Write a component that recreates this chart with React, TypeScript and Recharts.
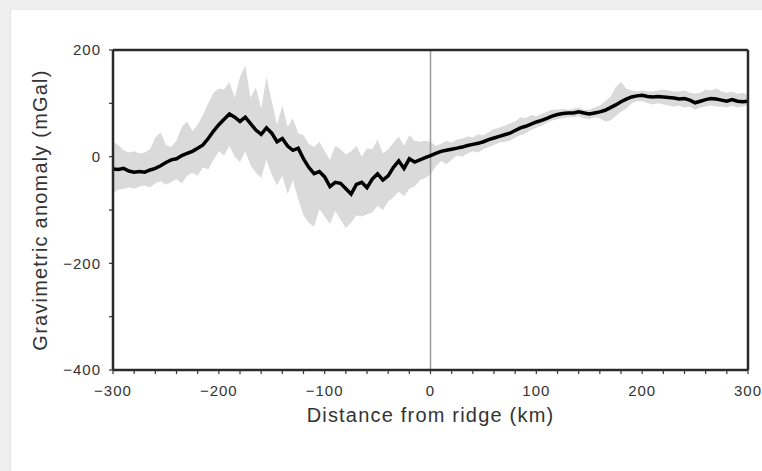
import {
  ComposedChart,
  Area,
  Line,
  XAxis,
  YAxis,
  ReferenceLine,
} from 'recharts'

// distance from ridge (km), every 5 km
const distance = [
  -300, -295, -290, -285, -280, -275, -270, -265, -260, -255, -250, -245, -240, -235, -230, -225,
  -220, -215, -210, -205, -200, -195, -190, -185, -180, -175, -170, -165, -160, -155, -150, -145,
  -140, -135, -130, -125, -120, -115, -110, -105, -100, -95, -90, -85, -80, -75, -70, -65, -60,
  -55, -50, -45, -40, -35, -30, -25, -20, -15, -10, -5, 0, 5, 10, 15, 20, 25, 30, 35, 40, 45, 50,
  55, 60, 65, 70, 75, 80, 85, 90, 95, 100, 105, 110, 115, 120, 125, 130, 135, 140, 145, 150, 155,
  160, 165, 170, 175, 180, 185, 190, 195, 200, 205, 210, 215, 220, 225, 230, 235, 240, 245, 250,
  255, 260, 265, 270, 275, 280, 285, 290, 295, 300,
]

// mean anomaly (mGal)
const anomaly = [
  -23, -24, -22, -27, -29, -28, -29, -25, -22, -17, -11, -6, -4, 2, 6, 10,
  16, 22, 34, 48, 60, 70, 80, 74, 66, 74, 62, 50, 42, 54, 44, 28,
  34, 20, 12, 16, -4, -20, -32, -28, -38, -56, -48, -50, -60, -70, -52, -48, -58,
  -42, -32, -44, -36, -20, -8, -22, -4, -10, -6, -2, 2, 6, 10, 12, 14, 16, 18, 21, 23, 25, 28,
  32, 35, 38, 41, 44, 49, 54, 57, 61, 65, 68, 72, 76, 79, 81, 82, 82, 84, 82, 80, 82,
  84, 87, 92, 97, 103, 108, 112, 114, 115, 113, 112, 113, 112, 111, 110, 108, 109, 106, 101,
  104, 107, 109, 108, 106, 104, 107, 104, 103, 104,
]

// spread envelope, lower and upper (mGal)
const lower = [
  -68, -62, -60, -58, -60, -56, -54, -58, -50, -46, -52, -48, -42, -50, -36, -30,
  -36, -20, -24, -6, 10, 2, 20, 0, -10, 10, -16, -30, -40, -6, -34, -54,
  -36, -70, -44, -80, -110, -124, -132, -98, -112, -126, -102, -118, -134, -124, -110, -112, -108,
  -104, -92, -100, -84, -76, -66, -74, -60, -56, -44, -40, -34, -18, -8, -14, -6, 2, 0, 6, 10, 8, 14,
  18, 22, 26, 28, 30, 36, 40, 44, 50, 54, 58, 64, 68, 70, 72, 74, 74, 76, 72, 70, 74,
  72, 66, 68, 76, 84, 90, 100, 104, 104, 100, 98, 100, 98, 96, 94, 96, 92, 94, 88,
  92, 94, 96, 94, 94, 92, 96, 92, 94, 96,
]

const upper = [
  28, 22, 12, 8, 10, 6, 8, 14, 36, 46, 22, 18, 30, 56, 66, 48,
  60, 78, 100, 120, 128, 126, 140, 110, 150, 170, 110, 130, 90, 150, 104, 60,
  96, 56, 72, 44, 40, 24, 18, 28, 10, -6, 20, 14, 4, 10, 20, 0, 16,
  14, 32, 6, 14, 26, 38, 20, 40, 30, 28, 30, 28, 20, 24, 30, 26, 32, 34, 38, 36, 42, 40,
  46, 52, 54, 58, 62, 66, 74, 72, 78, 76, 80, 84, 88, 88, 90, 88, 90, 92, 88, 88, 92,
  96, 104, 112, 130, 140, 128, 124, 122, 124, 122, 122, 124, 126, 124, 122, 122, 124, 120, 118,
  120, 126, 124, 128, 122, 120, 122, 118, 120, 116,
]

const xTicks = [-300, -280, -260, -240, -220, -200, -180, -160, -140, -120, -100, -80, -60, -40, -20,
  0, 20, 40, 60, 80, 100, 120, 140, 160, 180, 200, 220, 240, 260, 280, 300]
const yTicks = [-400, -300, -200, -100, 0, 100, 200]

const rows = distance.map((d, i) => ({
  d,
  mean: anomaly[i],
  band: [lower[i], upper[i]],
}))

const font = '"Liberation Sans", Arial, Helvetica, sans-serif'
const minus = (v: number) => String(v).replace('-', '\u2212')
const xLabel = (v: number) => (v % 100 === 0 ? minus(v) : '')
const yLabel = (v: number) => (v % 200 === 0 ? minus(v) : '')
const frame = { stroke: '#2a2a2a', strokeWidth: 2.5 }
const tickLine = { stroke: '#333', strokeWidth: 1.2 }
const tickText = { fill: '#333', fontSize: 15, letterSpacing: 1 }

export default function App() {
  return (
    <div
      style={{
        position: 'fixed',
        left: 0,
        top: 0,
        width: 762,
        height: 471,
        background: '#efefef',
        overflow: 'hidden',
      }}
    >
      <div
        style={{
          position: 'absolute',
          left: 10,
          top: 9,
          right: 0,
          bottom: 0,
          background: '#fff',
          borderLeft: '1px solid #e4e4e4',
          borderTop: '1px solid #ececec',
        }}
      />
      <div style={{ position: 'absolute', left: 0, top: 0 }}>
        <ComposedChart
          width={762}
          height={471}
          data={rows}
          margin={{ top: 45, right: 9, bottom: 71, left: 20 }}
          style={{ fontFamily: font }}
        >
          <XAxis
            dataKey="d"
            type="number"
            domain={[-300, 300]}
            ticks={xTicks}
            tickFormatter={xLabel}
            interval={0}
            height={30}
            tickSize={4}
            tickMargin={11}
            axisLine={frame}
            tickLine={tickLine}
            tick={tickText}
            label={{
              value: 'Distance from ridge (km)',
              position: 'bottom',
              offset: 8,
              fill: '#333',
              fontSize: 20,
              letterSpacing: 1.2,
            }}
          />
          <XAxis
            xAxisId="top"
            orientation="top"
            dataKey="d"
            type="number"
            domain={[-300, 300]}
            ticks={xTicks}
            interval={0}
            height={5}
            tickSize={4}
            tick={false}
            axisLine={frame}
            tickLine={tickLine}
          />
          <YAxis
            type="number"
            domain={[-400, 200]}
            ticks={yTicks}
            tickFormatter={yLabel}
            interval={0}
            width={93}
            tickSize={4}
            tickMargin={8}
            axisLine={frame}
            tickLine={tickLine}
            tick={tickText}
            label={{
              value: 'Gravimetric anomaly (mGal)',
              angle: -90,
              position: 'insideLeft',
              offset: 20,
              fill: '#333',
              fontSize: 20,
              letterSpacing: 1.2,
              style: { textAnchor: 'middle' },
            }}
          />
          <YAxis
            yAxisId="right"
            orientation="right"
            type="number"
            domain={[-400, 200]}
            ticks={yTicks}
            interval={0}
            width={5}
            tickSize={4}
            tick={false}
            axisLine={frame}
            tickLine={tickLine}
          />
          <Area
            dataKey="band"
            type="linear"
            fill="#dadada"
            fillOpacity={1}
            stroke="none"
            isAnimationActive={false}
          />
          <ReferenceLine x={0} stroke="#9a9a9a" strokeWidth={1.5} />
          <Line
            dataKey="mean"
            type="linear"
            stroke="#000"
            strokeWidth={3.5}
            dot={false}
            isAnimationActive={false}
          />
        </ComposedChart>
      </div>
    </div>
  )
}
